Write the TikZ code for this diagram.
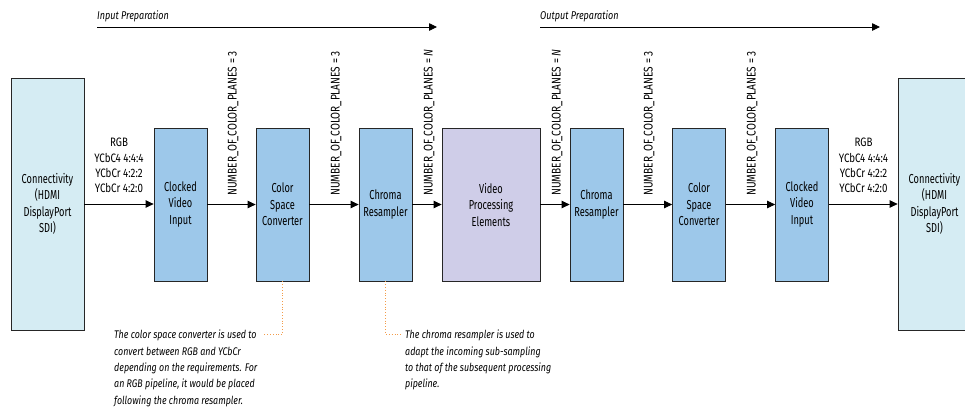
\documentclass[tikz,border=0pt]{standalone}
\usepackage{fontspec}
\setmainfont[FakeStretch=0.8]{Fira Sans}
\newfontfamily\boxfont[FakeStretch=0.71]{Fira Sans}
\usetikzlibrary{arrows.meta}
\definecolor{connfill}{HTML}{D5ECF3}
\definecolor{ipfill}{HTML}{9DC8EA}
\definecolor{vpefill}{HTML}{CFCDE8}
\definecolor{notecol}{HTML}{F39C4A}
\tikzset{
 box/.style={draw=black!85, line width=0.8pt, inner sep=0pt, align=center, minimum width=53pt, minimum height=153pt, font=\boxfont\fontsize{13}{16.5}\selectfont, fill=ipfill},
 conn/.style={box, fill=connfill, minimum width=73pt, minimum height=252pt},
 vpe/.style={box, fill=vpefill, minimum width=98pt},
 flow/.style={line width=0.8pt, -{Triangle[length=8pt,width=7.5pt]}},
 planes/.style={rotate=90, anchor=west, inner sep=0pt, font=\fontsize{12.6}{14}\selectfont},
 fmt/.style={anchor=south, align=center, inner sep=0pt, font=\fontsize{12.2}{15.3}\selectfont},
 note/.style={anchor=north west, align=left, inner sep=0pt, font=\itshape\fontsize{11.1}{16.3}\selectfont},
 noteline/.style={draw=notecol, line width=0.8pt, dotted},
 phase/.style={anchor=base west, inner sep=0pt, font=\itshape\fontsize{11.3}{13}\selectfont},
}
\begin{document}
\begin{tikzpicture}[x=1pt,y=-1pt]
\useasboundingbox (0,0) rectangle (965,408);
\clip (0,0) rectangle (965,408);
% phase arrows
\coordinate (ip0) at (97,27);
\coordinate (ip1) at (437,27);
\coordinate (op0) at (540,27);
\coordinate (op1) at (880,27);
\draw[flow] (ip0) -- (ip1);
\draw[flow] (op0) -- (op1);
\node[phase] (iptxt) at (97,19) {Input Preparation};
\node[phase] (optxt) at (540,19) {Output Preparation};
% boxes
\node[conn] (connL) at (47.5,204) {Connectivity\\(HDMI\\DisplayPort\\SDI)};
\node[box] (cvi1) at (180.5,204.5) {Clocked\\Video\\Input};
\node[box] (csc1) at (282.5,204.5) {Color\\Space\\Converter};
\node[box] (cr1) at (385.5,204.5) {Chroma\\Resampler};
\node[vpe] (vpe) at (491,204.5) {Video\\Processing\\Elements};
\node[box] (cr2) at (596.5,204.5) {Chroma\\Resampler};
\node[box] (csc2) at (699,204.5) {Color\\Space\\Converter};
\node[box] (cvi2) at (802,204.5) {Clocked\\Video\\Input};
\node[conn] (connR) at (934.5,204) {Connectivity\\(HDMI\\DisplayPort\\SDI)};
% connectors
\draw[flow] (connL.east |- 0,204) -- (cvi1.west |- 0,204);
\draw[flow] (cvi1) -- (csc1);
\draw[flow] (csc1) -- (cr1);
\draw[flow] (cr1) -- (vpe);
\draw[flow] (vpe) -- (cr2);
\draw[flow] (cr2) -- (csc2);
\draw[flow] (csc2) -- (cvi2);
\draw[flow] (cvi2.east |- 0,204) -- (connR.west |- 0,204);
% format labels
\node[fmt] (fmtL) at (119,193) {RGB\\YCbC4 4:4:4\\YCbCr 4:2:2\\YCbCr 4:2:0};
\node[fmt] (fmtR) at (863.5,193) {RGB\\YCbC4 4:4:4\\YCbCr 4:2:2\\YCbCr 4:2:0};
% plane labels
\node[planes] (p1) at (233,196) {NUMBER\_OF\_COLOR\_PLANES = 3};
\node[planes] (p2) at (336,196) {NUMBER\_OF\_COLOR\_PLANES = 3};
\node[planes] (p3) at (429,196) {NUMBER\_OF\_COLOR\_PLANES = \textit{N}};
\node[planes] (p4) at (557,196) {NUMBER\_OF\_COLOR\_PLANES = \textit{N}};
\node[planes] (p5) at (649,196) {NUMBER\_OF\_COLOR\_PLANES = 3};
\node[planes] (p6) at (752,196) {NUMBER\_OF\_COLOR\_PLANES = 3};
% notes
\node[note] (n1) at (114,330) {The color space converter is used to\\convert between RGB and YCbCr\\depending on the requirements. For\\an RGB pipeline, it would be placed\\following the chroma resampler.};
\node[note] (n2) at (405,330) {The chroma resampler is used to\\adapt the incoming sub-sampling\\to that of the subsequent processing\\pipeline.};
\coordinate (n1c) at (264,334);
\coordinate (n2c) at (402,334);
\draw[noteline] (csc1.south) |- (n1c);
\draw[noteline] (cr1.south) |- (n2c);
\end{tikzpicture}
\end{document}
